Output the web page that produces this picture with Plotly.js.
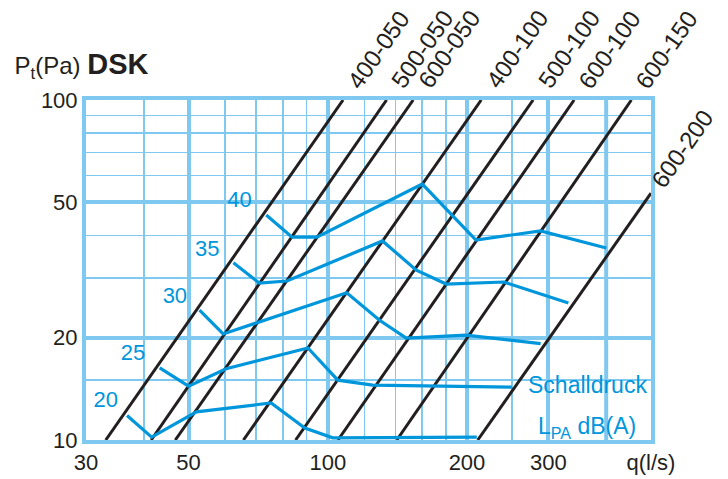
<!DOCTYPE html>
<html><head><meta charset="utf-8">
<script src="https://cdn.plot.ly/plotly-3.0.1.min.js"></script>
<style>html,body{margin:0;padding:0;background:#fff}#chart{width:728px;height:479px}</style>
</head><body><div id="chart"></div>
<script>
// Damper characteristic lines (start point and end point)
const damperNames = ['400-050','500-050','600-050','400-100','500-100','600-100','600-150','600-200'];
const damperQ0 = [33.1, 41.5, 46.8, 65.7, 85.2, 105.2, 141, 211];
const damperP0 = [10, 10, 10, 10, 10, 10, 10, 10];
const damperQ1 = [107.9, 134, 153, 214.7, 278, 341, 453.5, 500];
const damperP1 = [100, 100, 100, 100, 100, 100, 100, 53.2];
const damperLabelP = [141, 141, 141, 141, 141, 141, 141, 72];

// Sound pressure level contours LPA dB(A)
const levels = ['20', '25', '30', '35', '40'];
const lev20Q = [36.8, 41.6, 52.0, 75.4, 89.2, 102.5, 210];
const lev20P = [11.8, 10.2, 12.1, 12.85, 10.85, 10.15, 10.2];
const lev25Q = [43.3, 50.0, 60.3, 90.6, 105.1, 125, 250];
const lev25P = [16.3, 14.4, 16.2, 18.65, 15.0, 14.5, 14.3];
const lev30Q = [52.8, 59.4, 109.9, 129.4, 147.8, 199, 288.6];
const lev30P = [24.1, 20.5, 27.1, 22.5, 19.95, 20.35, 19.2];
const lev35Q = [62.5, 71.1, 81.6, 131.3, 155.4, 180.3, 240.3, 331.4];
const lev35P = [33.2, 28.95, 29.35, 38.5, 31.6, 28.75, 29.15, 25.3];
const lev40Q = [73.6, 83.7, 94.7, 160.1, 209.1, 288.6, 400.2];
const lev40P = [45.9, 39.5, 39.5, 56.6, 38.75, 41.2, 36.7];
const levelLabelQ = [33.1, 37.9, 46.7, 54.9, 64.4];
const levelLabelP = [12.98, 17.9, 26.2, 36.2, 50.4];

// Axis ticks / grid
const xTickVals = [30, 50, 100, 200, 300, 500];
const xTickText = ['30', '50', '100', '200', '300', 'q(l/s)'];
const xThickUnlabelled = [400];
const xMinorVals = [40, 60, 70, 80, 90, 120, 140, 160, 180, 250];
const yTickVals = [10, 20, 50, 100];
const yTickText = ['10', '20', '50', '100'];
const yMinorVals = [15, 30, 40, 60, 70, 80, 90];

const gridBlue = '#7fc8ef';
const curveBlue = '#0096db';
const ink = '#231f20';
const font = 'Liberation Sans, Arial, sans-serif';

const L = Math.log10;
const xr = [L(30), L(500)];
const yr = [1, 2];

const traces = [];
xThickUnlabelled.forEach(v => {
  traces.push({x: [v, v], y: [10, 100], mode: 'lines', line: {color: gridBlue, width: 4},
    hoverinfo: 'skip', showlegend: false});
});
damperNames.forEach((n, i) => {
  traces.push({x: [damperQ0[i], damperQ1[i]], y: [damperP0[i], damperP1[i]], mode: 'lines',
    line: {color: ink, width: 3}, hoverinfo: 'skip', showlegend: false});
});
const levQ = [lev20Q, lev25Q, lev30Q, lev35Q, lev40Q];
const levP = [lev20P, lev25P, lev30P, lev35P, lev40P];
levQ.forEach((q, i) => {
  traces.push({x: q, y: levP[i], mode: 'lines', line: {color: curveBlue, width: 3.2},
    hoverinfo: 'skip', showlegend: false});
});
traces.push({x: levelLabelQ, y: levelLabelP, text: levels, mode: 'text', textposition: 'middle center',
  textfont: {family: font, size: 22, color: curveBlue}, hoverinfo: 'skip', showlegend: false, cliponaxis: false});

const annotations = damperNames.map((n, i) => {
  const a0 = L(damperQ0[i]), b0 = L(damperP0[i]);
  const a1 = L(damperQ1[i]), b1 = L(damperP1[i]);
  const lp = L(damperLabelP[i]);
  const lq = a0 + (lp - b0) * (a1 - a0) / (b1 - b0);
  return {xref: 'paper', yref: 'paper', x: (lq - xr[0]) / (xr[1] - xr[0]), y: (lp - yr[0]) / (yr[1] - yr[0]),
    text: n, showarrow: false, textangle: -55, xanchor: 'center', yanchor: 'middle',
    font: {family: font, size: 24, color: ink}};
});
annotations.push({xref: 'paper', yref: 'paper', x: 0.8876, y: 0.162, text: 'Schalldruck', showarrow: false,
  xanchor: 'center', yanchor: 'middle', font: {family: font, size: 23, color: curveBlue}});
annotations.push({xref: 'paper', yref: 'paper', x: 0.8876, y: 0.036, text: 'L<sub>PA</sub> dB(A)', showarrow: false,
  xanchor: 'center', yanchor: 'middle', font: {family: font, size: 23, color: curveBlue}});

const axisCommon = {
  type: 'log', tickmode: 'array', showgrid: true, gridcolor: gridBlue, gridwidth: 4,
  showline: true, linecolor: gridBlue, linewidth: 4, mirror: true, ticks: '', zeroline: false,
  tickfont: {family: font, size: 22, color: ink}, fixedrange: true
};
const layout = {
  width: 728, height: 479,
  margin: {l: 86, r: 77, t: 100, b: 39},
  paper_bgcolor: '#fff', plot_bgcolor: '#fff',
  showlegend: false,
  title: {text: 'P<sub>t</sub>(Pa) <b><span style="font-size:29px">DSK</span></b>', xref: 'container', yref: 'container',
    x: 0.02, xanchor: 'left', y: 1 - 66 / 479, yanchor: 'middle', font: {family: font, size: 24, color: ink}},
  xaxis: Object.assign({}, axisCommon, {range: xr, tickvals: xTickVals, ticktext: xTickText,
    minor: {tickmode: 'array', tickvals: xMinorVals, showgrid: true, gridcolor: gridBlue, gridwidth: 1.5, ticks: ''}}),
  yaxis: Object.assign({}, axisCommon, {range: yr, tickvals: yTickVals, ticktext: yTickText,
    minor: {tickmode: 'array', tickvals: yMinorVals, showgrid: true, gridcolor: gridBlue, gridwidth: 1.5, ticks: ''}}),
  annotations: annotations
};
Plotly.newPlot('chart', traces, layout, {displayModeBar: false, staticPlot: true});
</script>
</body></html>
